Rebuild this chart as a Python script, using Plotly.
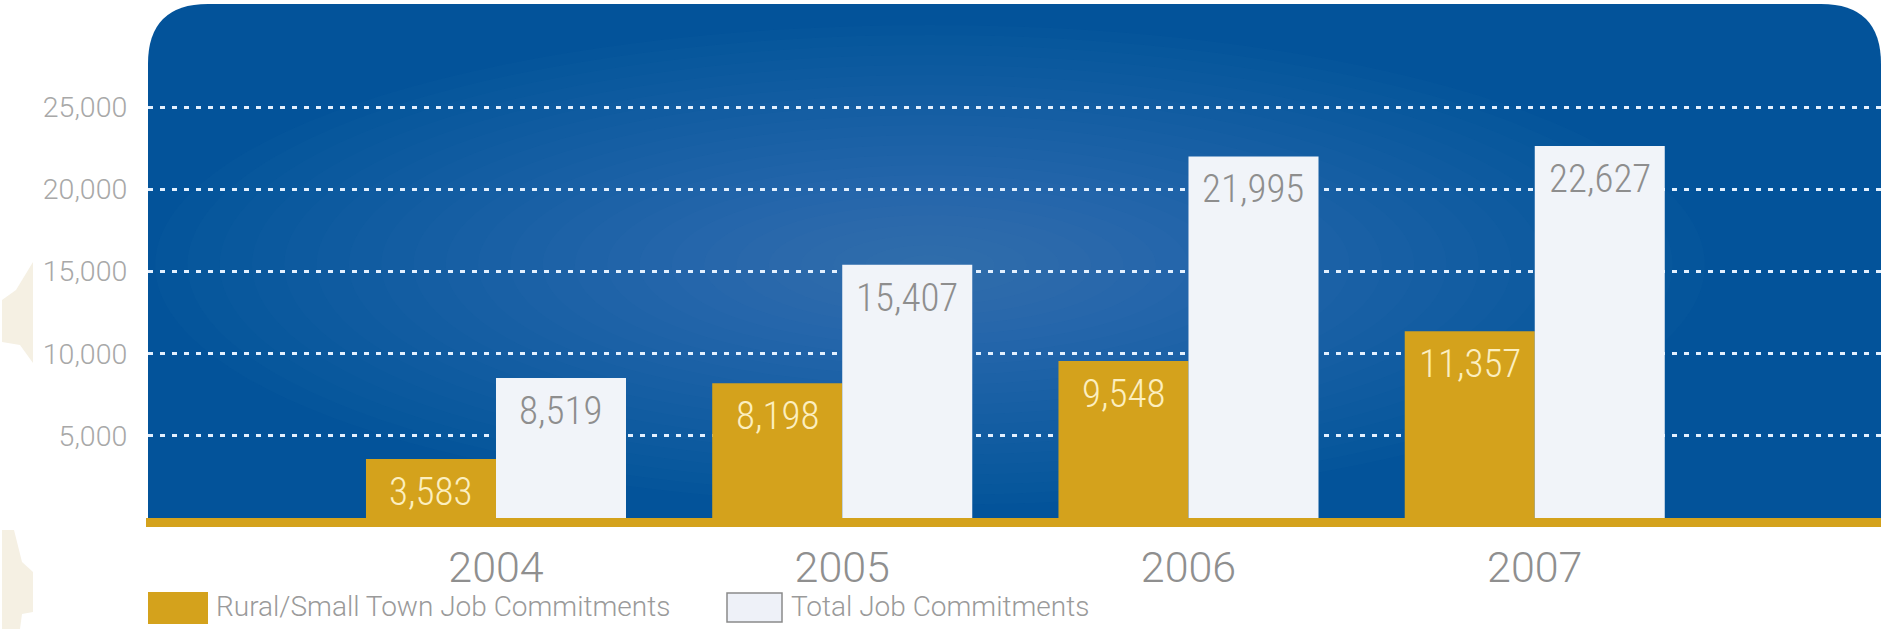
import plotly.graph_objects as go

# ---- data ----
years = ["2004", "2005", "2006", "2007"]
rural_jobs = [3583, 8198, 9548, 11357]
total_jobs = [8519, 15407, 21995, 22627]
series_names = ["Rural/Small Town Job Commitments", "Total Job Commitments"]
y_tickvals = [5000, 10000, 15000, 20000, 25000]
y_ticktext = ["5,000", "10,000", "15,000", "20,000", "25,000"]

# ---- layout geometry (pixels) ----
W, H = 1883, 629
L, R, T, B = 148, 2, 4, 111
PW, PH = W - L - R, H - T - B
COND = "Roboto Condensed, Liberation Sans Narrow, DejaVu Sans Condensed, sans-serif"
LIGHT = "Roboto, Liberation Sans, sans-serif"
GOLD = "#d4a21c"
XRANGE = [-1.005, 4.0]
YRANGE = [0, 31265]
BARGAP = 0.249

# half-width of a single bar in px (for placing value labels over each bar)
cat_px = PW / (XRANGE[1] - XRANGE[0])
half_bar = (1 - BARGAP) * cat_px / 4


def px(xp):
    return (xp - L) / PW


def py(yp):
    return (H - B - yp) / PH


fig = go.Figure()
fig.add_trace(go.Bar(
    x=years, y=rural_jobs, name=series_names[0],
    marker=dict(color=GOLD, line=dict(width=0)),
))
fig.add_trace(go.Bar(
    x=years, y=total_jobs, name=series_names[1],
    marker=dict(color="#f1f4f9", line=dict(width=0)),
))

shapes = []
# rounded blue panel
rx, ry = 60 / PW, 60 / PH
panel = (f"M 0,0 L 0,{1-ry} Q 0,1 {rx},1 L {1-rx},1 Q 1,1 1,{1-ry} L 1,0 Z")
shapes.append(dict(type="path", path=panel, xref="paper", yref="paper",
                   fillcolor="#03539a", line=dict(width=0), layer="below"))
# soft radial glow (kept inside the panel)
cx, cy = 930, 265
n = 24
for i in range(n):
    f = 1 - i / n
    shapes.append(dict(type="circle", xref="paper", yref="paper",
                       x0=px(cx - 775 * f), x1=px(cx + 775 * f),
                       y0=py(cy + 240 * f), y1=py(cy - 240 * f),
                       fillcolor="rgba(115,165,220,0.022)", line=dict(width=0),
                       layer="below"))
# gold base line
shapes.append(dict(type="line", xref="paper", yref="paper",
                   x0=px(146), x1=1, y0=py(522.5), y1=py(522.5),
                   line=dict(color=GOLD, width=9), layer="above"))


# decorative cream shapes at left edge
def poly(pts):
    return "M " + " L ".join(f"{px(a)},{py(b)}" for a, b in pts) + " Z"


shapes.append(dict(type="path", xref="paper", yref="paper",
                   path=poly([(33, 262), (33, 363), (20, 345), (2, 342), (2, 300), (16, 290)]),
                   fillcolor="#f5f0e3", line=dict(width=0), layer="below"))
shapes.append(dict(type="path", xref="paper", yref="paper",
                   path=poly([(2, 530), (14, 530), (22, 562), (33, 572), (33, 612), (22, 614), (20, 629), (2, 629)]),
                   fillcolor="#f5f0e3", line=dict(width=0), layer="below"))
# legend swatches
shapes.append(dict(type="rect", xref="paper", yref="paper",
                   x0=px(148), x1=px(208), y0=py(624), y1=py(592),
                   fillcolor=GOLD, line=dict(width=0)))
shapes.append(dict(type="rect", xref="paper", yref="paper",
                   x0=px(727), x1=px(782), y0=py(622), y1=py(593),
                   fillcolor="#eef1f8", line=dict(color="#8a8a8a", width=1.5)))

annotations = [
    dict(text=series_names[0], xref="paper", yref="paper", x=px(214), y=py(606),
         xanchor="left", yanchor="middle", showarrow=False,
         font=dict(family=LIGHT, size=28, color="#9a9a9a", weight=300)),
    dict(text=series_names[1], xref="paper", yref="paper", x=px(789), y=py(606),
         xanchor="left", yanchor="middle", showarrow=False,
         font=dict(family=LIGHT, size=28, color="#9a9a9a", weight=300)),
]
# value labels inside the top of each bar (x given as category index)
for i, v in enumerate(rural_jobs):
    annotations.append(dict(text=f"{v:,}", x=i, y=v, xref="x", yref="y",
                            xshift=-half_bar, yshift=-8, xanchor="center", yanchor="top",
                            showarrow=False,
                            font=dict(family=COND, size=39, color="#fcefc0", weight=300)))
for i, v in enumerate(total_jobs):
    annotations.append(dict(text=f"{v:,}", x=i, y=v, xref="x", yref="y",
                            xshift=half_bar, yshift=-8, xanchor="center", yanchor="top",
                            showarrow=False,
                            font=dict(family=COND, size=39, color="#8e8e8e", weight=300)))

fig.update_layout(
    width=W, height=H, autosize=False,
    margin=dict(l=L, r=R, t=T, b=B, pad=0),
    paper_bgcolor="white", plot_bgcolor="rgba(0,0,0,0)",
    barmode="group", bargap=BARGAP, bargroupgap=0,
    showlegend=False,
    shapes=shapes, annotations=annotations,
    xaxis=dict(type="category", range=XRANGE, showgrid=False,
               showline=False, zeroline=False, ticks="outside", ticklen=11,
               tickcolor="rgba(0,0,0,0)",
               tickfont=dict(family=LIGHT, size=43, color="#8f8f8f", weight=300)),
    yaxis=dict(range=YRANGE, tickvals=y_tickvals, ticktext=y_ticktext,
               showgrid=True, gridcolor="#e2f0ff", gridwidth=3, griddash="5px,7px",
               zeroline=False, showline=False, ticks="outside", ticklen=14,
               tickcolor="rgba(0,0,0,0)",
               tickfont=dict(family=LIGHT, size=28.5, color="#a8a8a8", weight=300)),
)

fig.write_html("out.html", post_script="document.body.style.margin='0';",
               config={"displayModeBar": False})
